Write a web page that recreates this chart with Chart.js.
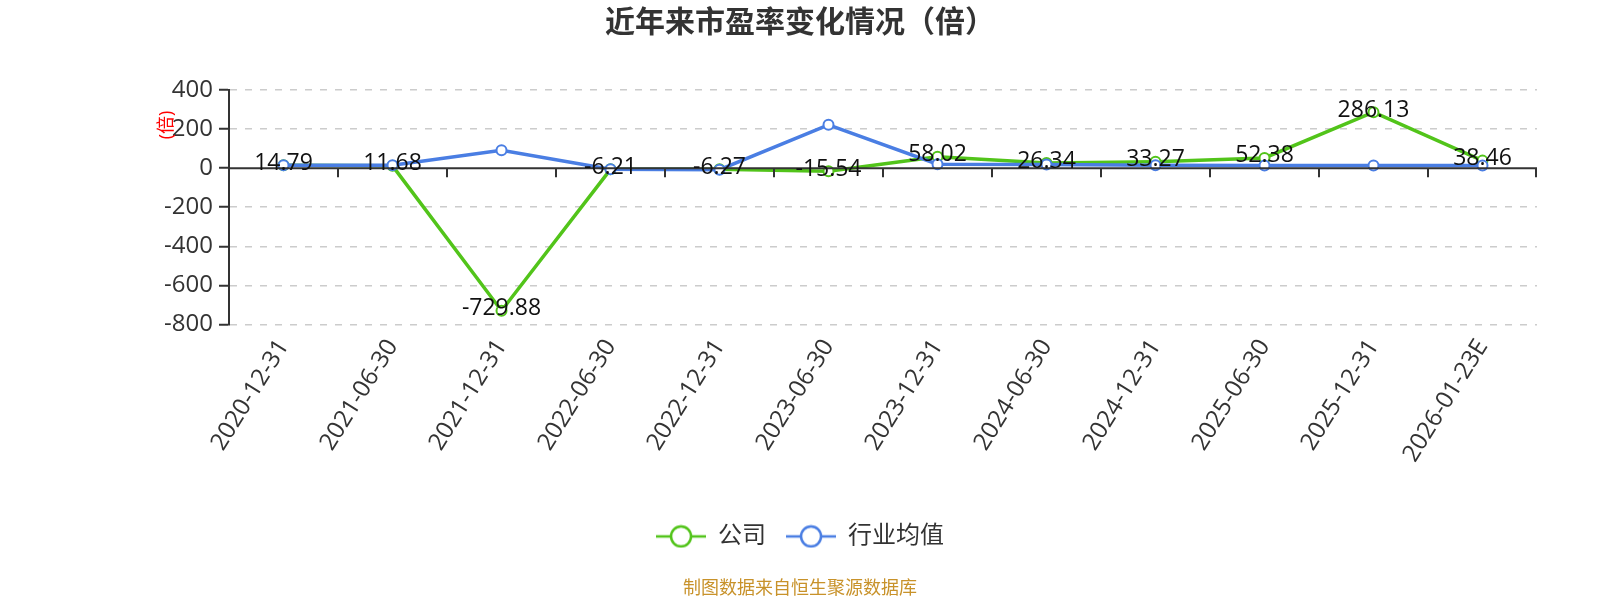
<!DOCTYPE html>
<html>
<head>
<meta charset="utf-8">
<script src="https://cdn.jsdelivr.net/npm/chart.js@4.4.1/dist/chart.umd.min.js"></script>
<style>
  html, body { margin: 0; padding: 0; background: #fff; }
  #wrap { width: 1600px; height: 600px; }
</style>
</head>
<body>
<div id="wrap"><canvas id="peChart"></canvas></div>
<script>
const categories = ['2020-12-31', '2021-06-30', '2021-12-31', '2022-06-30', '2022-12-31', '2023-06-30',
                    '2023-12-31', '2024-06-30', '2024-12-31', '2025-06-30', '2025-12-31', '2026-01-23E'];
const companyPE = [14.79, 11.68, -729.88, -6.21, -6.27, -15.54, 58.02, 26.34, 33.27, 52.38, 286.13, 38.46];
const industryPE = [15, 15, 92, -6, -8, 222, 20, 19, 15, 13, 14, 14];
const yMin = -800, yMax = 400, yStep = 200;

const GREEN = '#52c41a';
const BLUE = '#4a7ee3';
const FONT = "'Open Sans', 'Noto Sans CJK SC', sans-serif";

// legend icon: short line with hollow circle in the middle
function legendIcon(color) {
    const c = document.createElement('canvas');
    c.width = 50; c.height = 24;
    const g = c.getContext('2d');
    g.strokeStyle = color;
    g.lineWidth = 2.5;
    g.beginPath(); g.moveTo(0, 12); g.lineTo(50, 12); g.stroke();
    g.beginPath(); g.arc(25, 12, 10, 0, Math.PI * 2);
    g.fillStyle = '#fff'; g.fill();
    g.stroke();
    return c;
}
const icons = [legendIcon(GREEN), legendIcon(BLUE)];

// zero line, category tick marks, value labels and the red unit label
const extras = {
    id: 'extras',
    afterDatasetsDraw(chart) {
        const { ctx, chartArea, scales: { x, y } } = chart;
        const y0 = y.getPixelForValue(0);
        ctx.save();
        ctx.strokeStyle = '#333';
        ctx.lineWidth = 2;
        ctx.beginPath();
        ctx.moveTo(chartArea.left, y0);
        ctx.lineTo(chartArea.right, y0);
        for (let i = 1; i <= categories.length; i++) {
            const bx = i < categories.length
                ? (x.getPixelForValue(i - 1) + x.getPixelForValue(i)) / 2
                : chartArea.right - 1;
            ctx.moveTo(bx, y0);
            ctx.lineTo(bx, y0 + 9);
        }
        ctx.stroke();

        // company values on the points
        const meta = chart.getDatasetMeta(0);
        ctx.fillStyle = '#111';
        ctx.font = '23px ' + FONT;
        ctx.textAlign = 'center';
        ctx.textBaseline = 'middle';
        meta.data.forEach((pt, i) => {
            ctx.fillText(companyPE[i].toFixed(2), pt.x, pt.y - 2);
        });

        // unit label
        ctx.translate(167, 125);
        ctx.rotate(-Math.PI / 2);
        ctx.fillStyle = '#f00';
        ctx.font = '18px ' + FONT;
        ctx.fillText('(倍)', 0, 0);
        ctx.restore();
    }
};

new Chart(document.getElementById('peChart').getContext('2d'), {
    type: 'line',
    data: {
        labels: categories,
        datasets: [
            {
                label: '公司',
                data: companyPE,
                borderColor: GREEN,
                backgroundColor: '#fff',
                borderWidth: 3.5,
                pointRadius: 5,
                pointBorderWidth: 2,
                pointBorderColor: GREEN,
                pointBackgroundColor: '#fff',
                tension: 0,
                yAxisID: 'y',
                order: 1
            },
            {
                label: '行业均值',
                data: industryPE,
                borderColor: BLUE,
                backgroundColor: '#fff',
                borderWidth: 3.5,
                pointRadius: 5,
                pointBorderWidth: 2,
                pointBorderColor: BLUE,
                pointBackgroundColor: '#fff',
                tension: 0,
                yAxisID: 'y',
                order: 0
            }
        ]
    },
    options: {
        responsive: true,
        maintainAspectRatio: false,
        animation: false,
        layout: { padding: 0 },
        plugins: {
            title: {
                display: true,
                text: '近年来市盈率变化情况（倍）',
                color: '#333',
                font: { family: FONT, size: 30, weight: 'bold' },
                padding: { top: 5, bottom: 49 }
            },
            subtitle: {
                display: true,
                position: 'bottom',
                text: '制图数据来自恒生聚源数据库',
                color: '#c8922a',
                font: { family: FONT, size: 18 },
                padding: { top: 20, bottom: 0 }
            },
            legend: {
                position: 'bottom',
                labels: {
                    usePointStyle: true,
                    pointStyleWidth: 50,
                    color: '#333',
                    padding: 20,
                    font: { family: FONT, size: 24 },
                    sort: (a, b) => a.datasetIndex - b.datasetIndex,
                    generateLabels(chart) {
                        const items = Chart.defaults.plugins.legend.labels.generateLabels(chart);
                        items.forEach(it => { it.pointStyle = icons[it.datasetIndex]; });
                        return items;
                    }
                }
            },
            tooltip: { enabled: false }
        },
        scales: {
            x: {
                offset: true,
                grid: { display: false, drawTicks: false },
                border: { display: false },
                ticks: {
                    autoSkip: false,
                    minRotation: 58,
                    maxRotation: 58,
                    padding: 10,
                    color: '#333',
                    font: { family: FONT, size: 24 }
                },
                afterFit(scale) { scale.height = 180; }
            },
            y: {
                min: yMin,
                max: yMax,
                ticks: {
                    stepSize: yStep,
                    color: '#333',
                    padding: 6,
                    font: { family: FONT, size: 24 }
                },
                grid: {
                    color: ctx => ctx.tick && ctx.tick.value === 0 ? 'rgba(0,0,0,0)' : '#ccc',
                    lineWidth: 1.5,
                    tickColor: '#333',
                    tickLength: 10,
                    tickWidth: 2
                },
                border: { display: true, color: '#333', width: 2, dash: [7, 8] },
                afterFit(scale) { scale.width = 229; }
            },
            // empty right axis that only reserves the right margin
            yRight: {
                position: 'right',
                display: true,
                grid: { display: false, drawTicks: false },
                border: { display: false },
                ticks: { display: false },
                afterFit(scale) { scale.width = 63; }
            }
        }
    },
    plugins: [extras]
});
</script>
</body>
</html>
